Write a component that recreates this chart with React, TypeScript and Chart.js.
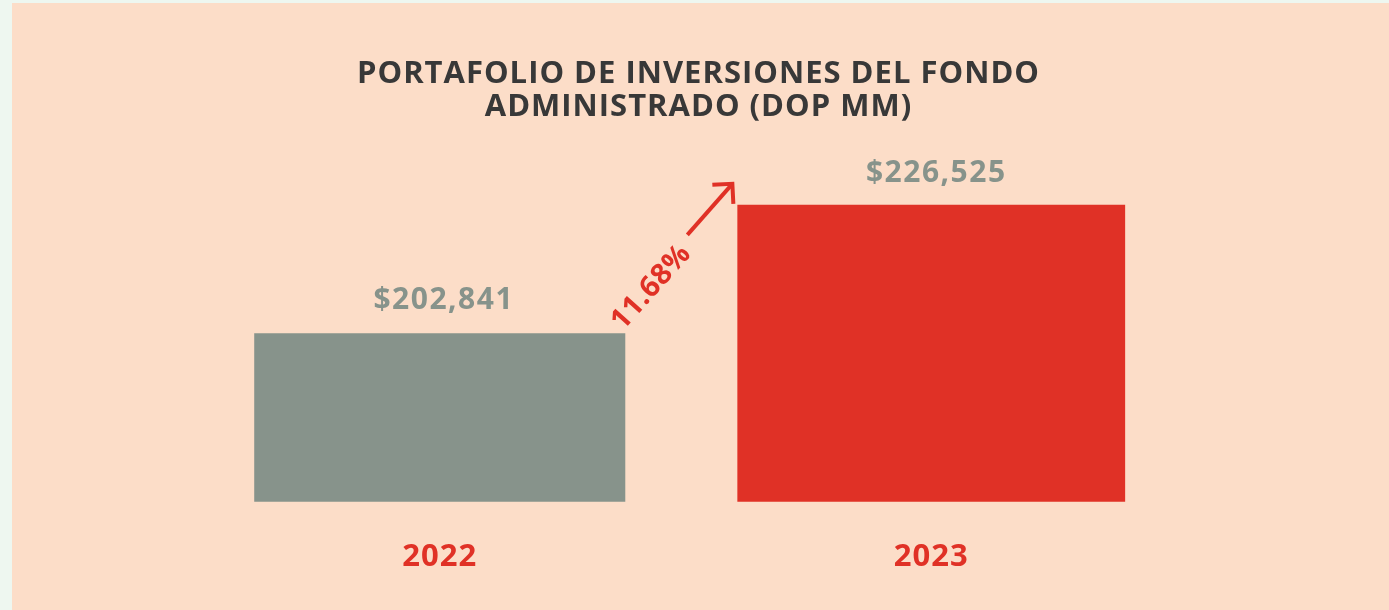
import React, { useEffect, useRef } from "react";
import { Chart, registerables } from "chart.js";

Chart.register(...registerables);

const categories = ["2022", "2023"];
const values2022 = [202841, null];
const values2023 = [null, 226525];
const valueLabels = ["$202,841", "$226,525"];
const growthLabel = "11.68%";
const titleLines = ["PORTAFOLIO DE INVERSIONES DEL FONDO", "ADMINISTRADO (DOP MM)"];

const RED = "#E03126";
const GRAY = "#87938B";
const FONT = "'Open Sans', sans-serif";

const spacingPlugin = {
  id: "spacing",
  beforeUpdate(chart: any) {
    chart.ctx.letterSpacing = "1px";
  },
  beforeDraw(chart: any) {
    chart.ctx.letterSpacing = "1px";
  },
};

const annotationPlugin = {
  id: "annot",
  afterDatasetsDraw(chart: any) {
    const ctx = chart.ctx;
    const b0 = chart.getDatasetMeta(0).data[0];
    const b1 = chart.getDatasetMeta(1).data[1];
    if (!b0 || !b1) return;
    ctx.save();
    ctx.letterSpacing = "1.5px";
    ctx.font = `700 30px ${FONT}`;
    ctx.fillStyle = GRAY;
    ctx.textAlign = "center";
    ctx.textBaseline = "alphabetic";
    ctx.fillText(valueLabels[0], b0.x + 4, b0.y - 24);
    ctx.fillText(valueLabels[1], b1.x + 5, b1.y - 23);

    const left1 = b1.x - b1.width / 2;
    const right0 = b0.x + b0.width / 2;
    // rotated growth label
    ctx.save();
    ctx.translate(right0 + 26, b0.y - 46);
    ctx.rotate((-48 * Math.PI) / 180);
    ctx.letterSpacing = "0.5px";
    ctx.font = `700 29px ${FONT}`;
    ctx.fillStyle = RED;
    ctx.textBaseline = "middle";
    ctx.fillText(growthLabel, 0, 0);
    ctx.restore();
    // arrow
    const sx = left1 - 50, sy = b1.y + 30;
    const ex = left1 - 5, ey = b1.y - 21;
    ctx.strokeStyle = RED;
    ctx.lineWidth = 4;
    ctx.lineCap = "butt";
    ctx.beginPath();
    ctx.moveTo(sx, sy);
    ctx.lineTo(ex, ey);
    ctx.stroke();
    ctx.beginPath();
    ctx.moveTo(ex - 20, ey + 1);
    ctx.lineTo(ex, ey);
    ctx.lineTo(ex + 1, ey + 20);
    ctx.stroke();
    ctx.restore();
  },
};

export default function App() {
  const ref = useRef<HTMLCanvasElement>(null);
  useEffect(() => {
    document.body.style.margin = "0";
    const chart = new Chart(ref.current!, {
      type: "bar",
      data: {
        labels: categories,
        datasets: [
          { data: values2022, backgroundColor: GRAY, barPercentage: 0.755, categoryPercentage: 1, yAxisID: "y" },
          { data: values2023, backgroundColor: RED, barPercentage: 0.789, categoryPercentage: 1, yAxisID: "y" },
        ],
      },
      options: {
        animation: false,
        responsive: false,
        maintainAspectRatio: false,
        layout: { padding: { left: 8, right: 0, top: 0, bottom: 5 } },
        datasets: { bar: { skipNull: true } } as any,
        plugins: {
          legend: { display: false },
          tooltip: { enabled: false },
          title: {
            display: true,
            text: titleLines,
            color: "#383838",
            font: { family: FONT, size: 31, weight: "bold", lineHeight: 1.05 },
            padding: { top: 58, bottom: 20 },
          },
        },
        scales: {
          x: {
            grid: { display: false },
            border: { display: false },
            ticks: { color: RED, font: { family: FONT, size: 31, weight: "bold" }, padding: 29 },
          },
          y: {
            position: "left",
            min: 171800,
            max: 237900,
            grid: { display: false },
            border: { display: false },
            ticks: { display: false },
            afterFit: (s: any) => { s.width = 186; },
          },
          y2: {
            position: "right",
            min: 171800,
            max: 237900,
            grid: { display: false },
            border: { display: false },
            ticks: { display: false },
            afterFit: (s: any) => { s.width = 212; },
          },
        },
      },
      plugins: [spacingPlugin, annotationPlugin],
    });
    return () => chart.destroy();
  }, []);
  return (
    <div style={{ width: 1389, height: 610, background: "#EEF7F0", position: "relative", overflow: "hidden" }}>
      <div style={{ position: "absolute", left: 12, top: 3, width: 1377, height: 607, background: "#FCDDC8" }} />
      <canvas ref={ref} width={1389} height={610} style={{ position: "absolute", left: 0, top: 0 }} />
    </div>
  );
}
